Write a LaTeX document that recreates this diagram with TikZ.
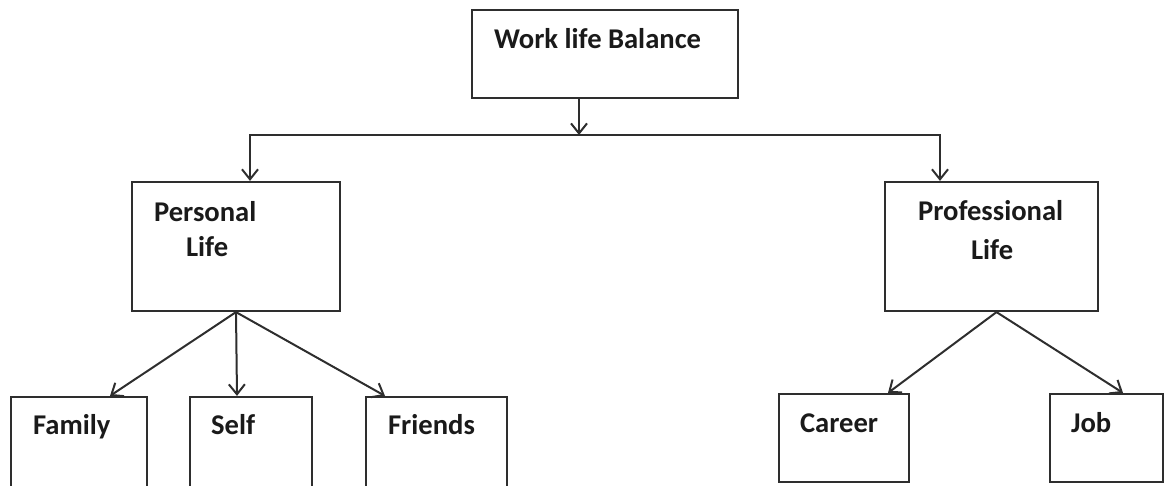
\documentclass[tikz,border=0pt]{standalone}
\usepackage{fontspec}
\setmainfont{Carlito}
\usetikzlibrary{arrows.meta, positioning}
\definecolor{cline}{HTML}{2E2E2E}
\definecolor{ctext}{HTML}{1A1A1A}
\tikzset{
  every picture/.style={line width=2.2pt},
  box/.style={draw=cline, rectangle, inner sep=0pt},
  arrow/.style={-{Straight Barb[length=10pt, width=16pt, line width=2pt]}, draw=cline, line width=2pt},
  lbl/.style={font=\fontsize{28.6}{34}\selectfont\bfseries, text=ctext, inner sep=0pt, anchor=base west},
}

\begin{document}
\begin{tikzpicture}[x=1pt, y=-1pt]
  \clip (0,0) rectangle (1165,485);
  % boxes
  \node[box, minimum width=266pt, minimum height=88pt] (wlb) at (605,54) {};
  \node[box, minimum width=208pt, minimum height=129pt] (personal) at (236,246.5) {};
  \node[box, minimum width=213pt, minimum height=129pt] (prof) at (991.5,246.5) {};
  \node[box, minimum width=136pt, minimum height=123pt] (family) at (79,458.5) {};
  \node[box, minimum width=122pt, minimum height=123pt] (self) at (251,458.5) {};
  \node[box, minimum width=141pt, minimum height=123pt] (friends) at (436.5,458.5) {};
  \node[box, minimum width=130pt, minimum height=88pt] (career) at (844,438) {};
  \node[box, minimum width=113pt, minimum height=88pt] (job) at (1106.5,438) {};
  % texts
  \node[lbl] (tWlb) at (493,48) {Work life Balance};
  \node[lbl] (tPers) at (153,221) {Personal};
  \node[lbl] (tPersLife) at (185,256) {Life};
  \node[lbl] (tProf) at (917,220) {Professional};
  \node[lbl] (tProfLife) at (970,259) {Life};
  \node[lbl] (tFamily) at (32,434) {Family};
  \node[lbl] (tSelf) at (210,434) {Self};
  \node[lbl] (tFriends) at (387,434) {Friends};
  \node[lbl] (tCareer) at (799,432) {Career};
  \node[lbl] (tJob) at (1070,432) {Job};
  % connectors
  \coordinate (bus) at (579,135);
  \draw[arrow] (wlb.south -| bus) -- (bus);
  \draw[arrow] (bus) -| ([xshift=14pt]personal.north);
  \draw[arrow] (bus) -| ([xshift=-51.5pt]prof.north);
  \draw[arrow] (personal.south) -- ([xshift=31pt]family.north);
  \draw[arrow] (personal.south) -- ([xshift=-14pt]self.north);
  \draw[arrow] (personal.south) -- ([xshift=-51.5pt]friends.north);
  \draw[arrow] ([xshift=5pt]prof.south) -- ([xshift=44pt]career.north);
  \draw[arrow] ([xshift=5pt]prof.south) -- ([xshift=16.5pt]job.north);
\end{tikzpicture}
\end{document}
